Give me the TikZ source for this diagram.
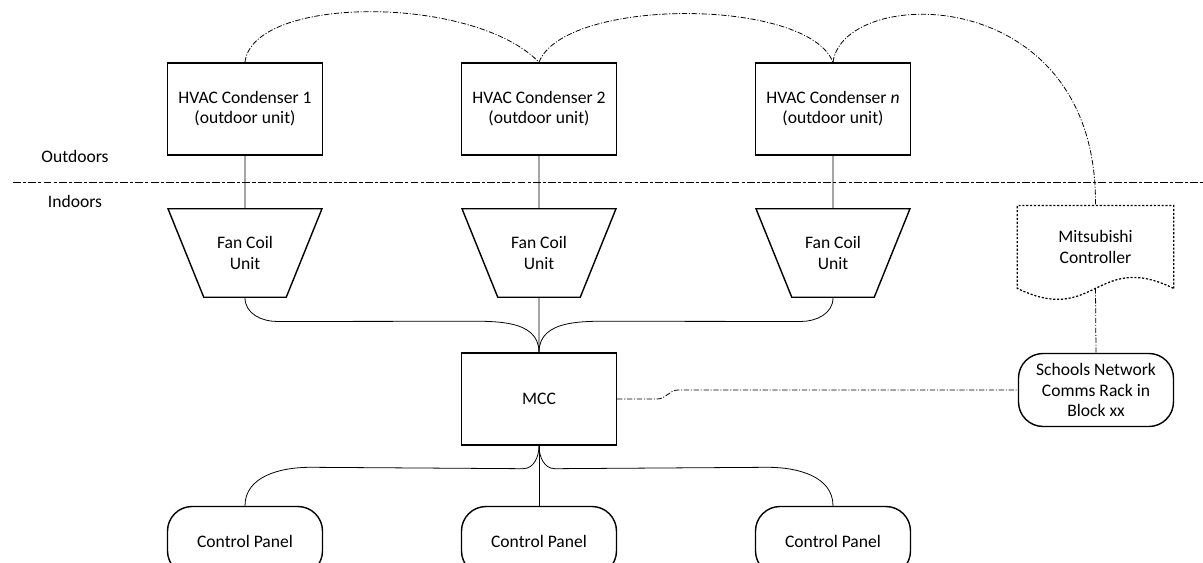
\documentclass[tikz,border=0pt]{standalone}
\usepackage{fontspec}
\setmainfont{Carlito}
\usepackage{tikz}
\usetikzlibrary{shapes.geometric, calc}

\begin{document}
\begin{tikzpicture}[font=\fontsize{10}{11.5}\selectfont, line width=0.45pt]
  \tikzstyle{condenser}=[draw, line width=0.8pt, minimum width=3.1cm, minimum height=1.84cm, align=center]
  \tikzstyle{fancoil}=[draw, line width=0.8pt, trapezium, shape border rotate=180, trapezium angle=68,
                       trapezium stretches body, minimum width=3.08cm, inner xsep=0pt, inner ysep=0.56cm, align=center]
  \tikzstyle{terminal}=[draw, line width=0.8pt, rounded corners=14pt, minimum width=3.1cm, minimum height=1.38cm, align=center]
  \tikzstyle{comms}=[dash pattern=on 3pt off 1pt on 0.6pt off 1pt]
  \tikzstyle{boundary}=[dash pattern=on 4.5pt off 1.2pt on 1.8pt off 1.2pt]

  \useasboundingbox (0,0) rectangle (24.06,11.26);
  \clip (0,0) rectangle (24.06,11.26);

  \node[condenser]  (cond1) at (4.9, 9.08)    {HVAC Condenser 1\\(outdoor unit)};
  \node[condenser]  (cond2) at (10.78, 9.08)  {HVAC Condenser 2\\(outdoor unit)};
  \node[condenser]  (cond3) at (16.66, 9.08)  {HVAC Condenser \textit{n}\\(outdoor unit)};
  \node             (outdoors) at (1.5, 8.14) {Outdoors};
  \node             (indoors) at (1.5, 7.23)  {Indoors};
  \coordinate       (sepL) at (0.26, 7.606);
  \coordinate       (sepR) at (24.06, 7.606);
  \node[fancoil]    (fcu1) at (4.9, 6.2)      {Fan Coil\\Unit};
  \node[fancoil]    (fcu2) at (10.78, 6.2)    {Fan Coil\\Unit};
  \node[fancoil]    (fcu3) at (16.66, 6.2)    {Fan Coil\\Unit};
  \node[minimum width=3.11cm, minimum height=1.64cm, align=center]
                    (mitsu) at (21.91, 6.32)  {Mitsubishi\\Controller};
  \node[condenser]  (mcc) at (10.78, 3.28)    {MCC};
  \node[terminal, minimum height=1.46cm]
                    (rack) at (21.92, 3.46)   {Schools Network\\Comms Rack in\\Block xx};
  \node[terminal]   (cp1) at (4.9, 0.44)      {Control Panel};
  \node[terminal]   (cp2) at (10.78, 0.44)    {Control Panel};
  \node[terminal]   (cp3) at (16.66, 0.44)    {Control Panel};

  \draw[boundary] (sepL) -- (sepR);
  \draw[line width=0.7pt, dash pattern=on 1.2pt off 1pt]
        (mitsu.south east) -- (mitsu.north east) -- (mitsu.north west) -- (mitsu.south west)
        .. controls +(1.55,-0.76) and +(-1.55,0.76) .. (mitsu.south east);

  \path (cond1) edge (fcu1)
        (cond2) edge (fcu2)
        (cond3) edge (fcu3)
        (fcu2) edge (mcc)
        (mcc) edge (cp2);
  \draw (fcu1.south) to[out=-90,in=180] ++(0.64,-0.47) -- ($(mcc.north)+(-1.64,0.62)$) to[out=0,in=90] (mcc.north);
  \draw (fcu3.south) to[out=-90,in=0] ++(-0.64,-0.47) -- ($(mcc.north)+(1.64,0.62)$) to[out=180,in=90] (mcc.north);
  \draw (mcc.south) to[out=-90,in=0] ++(-0.32,-0.46) -- ($(cp1.north)+(1.3,0.77)$) to[out=180,in=90] (cp1.north);
  \draw (mcc.south) to[out=-90,in=180] ++(0.32,-0.46) -- ($(cp3.north)+(-1.3,0.77)$) to[out=0,in=90] (cp3.north);

  \draw[comms] (cond1.north) .. controls +(0.15,1.35) and +(-1.3,1.35) .. (cond2.north);
  \draw[comms] (cond2.north) .. controls +(0.5,1.3) and +(-0.5,1.3) .. (cond3.north);
  \draw[comms] (cond3.north) .. controls +(0.2,1.55) and +(0.05,4.5) .. (mitsu.north);
  \draw[comms] (mitsu.south) -- (rack.north);
  \draw[comms] (mcc.east) -- ++(0.8,0) to[out=0,in=180] ++(0.42,0.18) -- (rack.west);
\end{tikzpicture}
\end{document}
